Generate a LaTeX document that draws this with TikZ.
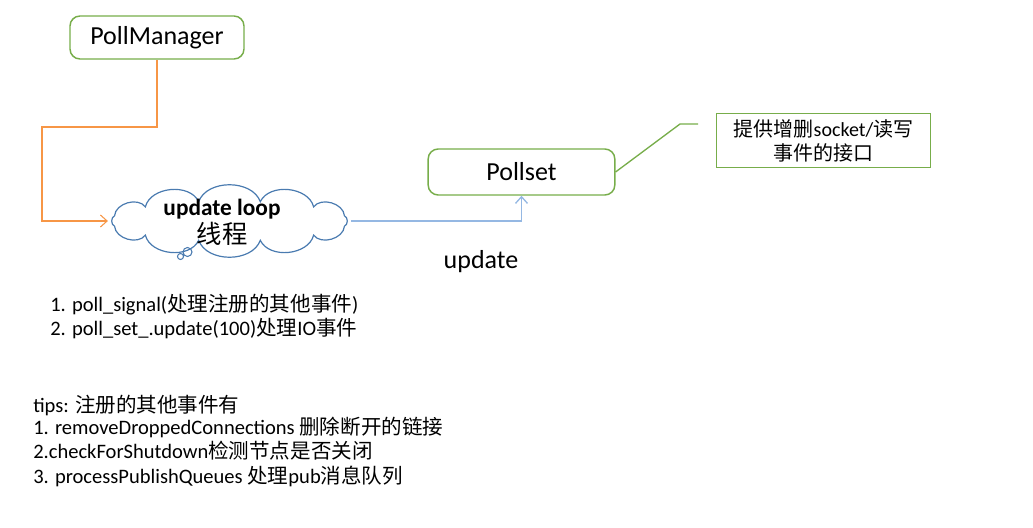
\documentclass[tikz,border=0pt]{standalone}
\usepackage{fontspec}
\setmainfont{Carlito}
\newfontfamily\cjk{Noto Sans CJK SC}
\usepackage{tikz}
\usetikzlibrary{shapes.geometric}
\usetikzlibrary{arrows.meta}

\definecolor{boxgreen}{HTML}{77AD4A}
\definecolor{linkorange}{HTML}{F79646}
\definecolor{cloudblue}{HTML}{4A7BB0}
\definecolor{linkblue}{HTML}{95B8E3}

\tikzset{
    classbox/.style={draw=boxgreen,line width=1.1pt,rounded corners=7.5pt,inner sep=0pt,font=\fontsize{19.5}{22}\selectfont},
    notebox/.style={draw=boxgreen,line width=0.9pt,inner sep=0pt,align=center,font=\fontsize{15}{18}\selectfont\cjk},
    plaintext/.style={anchor=west,inner sep=0pt,font=\fontsize{15.4}{18}\selectfont},
    openarrow/.style={-{Straight Barb[length=5pt,width=9pt]}}
}

\begin{document}
\begin{tikzpicture}[x=0.75pt,y=-0.75pt]
            \useasboundingbox (0,0) rectangle (1033,528);

            \node[classbox,minimum width=130.5pt,minimum height=32.25pt] (pm) at (157,37.5) {PollManager};
            \node[classbox,minimum width=140pt,minimum height=34.5pt] (ps) at (521.5,172) {Pollset};
            \node[notebox,minimum width=161pt,minimum height=41pt] (note) at (823.5,140.5) {提供增删{\rmfamily socket/}读写\\事件的接口};

            % cloud outline round an invisible ellipse
            \node[ellipse,inner sep=0pt,minimum width=182pt,minimum height=37.5pt] (loop) at (229.5,221) {};
            \draw[cloudblue,line width=0.9pt] ([shift={(loop.center)}]15:119 and 20)
                \foreach \a in {45,75,105,135,165,195,225,255,285,315,345,375} { to[bend left=70] ([shift={(loop.center)}]\a:119 and 20) };
            \draw[cloudblue,line width=0.8pt] (187.5,252) circle (4.5) (180.5,256.5) circle (3);
            \node[align=center,inner sep=0pt,font=\fontsize{17.5}{21}\selectfont] (looptxt) at (222,222) {\textbf{update loop}\\{\fontsize{19}{21}\selectfont\cjk 线程}};

            \coordinate (bend) at (42,127);
            \draw[linkorange,line width=0.8pt,openarrow] (pm.south) |- (bend) |- (loop.west);
            \draw[linkblue,line width=1pt,openarrow] (loop.east) -| (ps.south);

            \coordinate (knee) at (680,124);
            \coordinate (tail) at (698,124);
            \draw[boxgreen,line width=1pt] (ps.east) -- (knee) -- (tail);

            \node[inner sep=0pt,font=\fontsize{19.5}{22}\selectfont] (lbl) at (481,262) {update};

            \node[plaintext] (stepA) at (50,305) {1. poll\_signal({\cjk 处理注册的其他事件})};
            \node[plaintext] (stepB) at (50,329) {2. poll\_set\_.update(100){\cjk 处理}IO{\cjk 事件}};

            \node[plaintext] (tipA) at (33,405) {tips: {\cjk 注册的其他事件有}};
            \node[plaintext] (tipB) at (33,427) {1. removeDroppedConnections {\cjk 删除断开的链接}};
            \node[plaintext] (tipC) at (33,451) {2.checkForShutdown{\cjk 检测节点是否关闭}};
            \node[plaintext] (tipD) at (33,476) {3. processPublishQueues {\cjk 处理}pub{\cjk 消息队列}};
        \end{tikzpicture}
\end{document}
